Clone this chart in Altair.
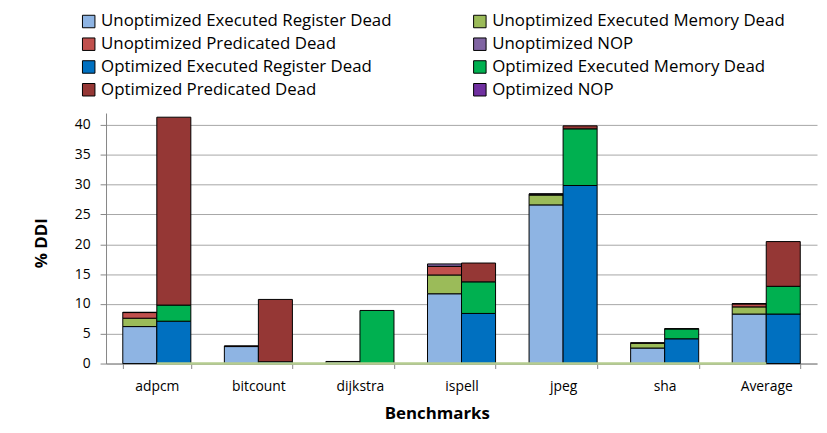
import altair as alt
import pandas as pd

benchmarks = ["adpcm", "bitcount", "dijkstra", "ispell", "jpeg", "sha", "Average"]
versions = ["Unoptimized", "Optimized"]
categories = ["Executed Register Dead", "Executed Memory Dead", "Predicated Dead", "NOP"]

unopt_reg = [6.2, 2.85, 0.3, 11.7, 26.6, 2.6, 8.3]
unopt_mem = [1.4, 0.05, 0.05, 3.15, 1.65, 0.8, 1.2]
unopt_pred = [0.95, 0.05, 0.0, 1.45, 0.15, 0.1, 0.5]
unopt_nop = [0.05, 0.0, 0.0, 0.4, 0.05, 0.0, 0.05]
opt_reg = [7.1, 0.3, 0.0, 8.4, 29.85, 4.15, 8.3]
opt_mem = [2.7, 0.0, 8.9, 5.3, 9.5, 1.65, 4.65]
opt_pred = [31.5, 10.45, 0.0, 3.15, 0.5, 0.05, 7.5]
opt_nop = [0.0, 0.0, 0.0, 0.0, 0.0, 0.0, 0.0]
baseline_values = [0, 0, 0, 0, 0, 0, 0]
y_ticks = [0, 5, 10, 15, 20, 25, 30, 35, 40]

series_colors = ["#8EB4E3", "#9BBB59", "#C0504D", "#8064A2",
                 "#0070C0", "#00B050", "#953735", "#7030A0"]

values = {
    "Unoptimized": [unopt_reg, unopt_mem, unopt_pred, unopt_nop],
    "Optimized": [opt_reg, opt_mem, opt_pred, opt_nop],
}

series_names = [f"{v} {c}" for v in versions for c in categories]

rows = []
for v in versions:
    for ci, c in enumerate(categories):
        for bi, b in enumerate(benchmarks):
            rows.append({"benchmark": b, "version": v, "series": f"{v} {c}",
                         "layer": ci, "value": values[v][ci][bi]})
df = pd.DataFrame(rows)

FONT = "Open Sans"

x_axis = alt.Axis(labelAngle=0, tickBand="extent", tickSize=5,
                  tickColor="#868686", domainColor="#868686",
                  labelFont=FONT, labelFontSize=14, labelColor="black",
                  labelPadding=11, titleFont=FONT, titleFontSize=17,
                  titleFontWeight="bold", titleColor="black",
                  titleX=334, titleY=42, titleBaseline="top")
y_axis = alt.Axis(values=y_ticks, grid=True,
                  gridColor="#a6a6a6", domainColor="#868686",
                  tickColor="#868686", tickSize=6,
                  labelFont=FONT, labelFontSize=14, labelColor="black",
                  labelPadding=10, labelOverlap=False,
                  titleFont=FONT, titleFontSize=17,
                  titleFontWeight="bold", titleColor="black",
                  titleX=-65, titleY=131, titleBaseline="middle")
x_scale = alt.Scale(paddingInner=0.33, paddingOuter=0.165)
y_scale = alt.Scale(domain=[0, 42], nice=False)

bars = alt.Chart(df).transform_filter("datum.value > 0").mark_bar(
    stroke="black", strokeWidth=1
).encode(
    x=alt.X("benchmark:N", sort=benchmarks, scale=x_scale,
            title="Benchmarks", axis=x_axis),
    xOffset=alt.XOffset("version:N", sort=versions),
    y=alt.Y("value:Q", stack="zero", scale=y_scale, title="% DDI", axis=y_axis),
    color=alt.Color("series:N",
                    scale=alt.Scale(domain=series_names, range=series_colors),
                    legend=alt.Legend(title=None, orient="none", legendX=-26,
                                      legendY=-101, columns=2,
                                      direction="horizontal",
                                      symbolType="square", symbolSize=159,
                                      symbolStrokeColor="black",
                                      symbolStrokeWidth=1,
                                      labelFont=FONT, labelFontSize=17,
                                      labelColor="black", labelOffset=4,
                                      rowPadding=5, columnPadding=78,
                                      gridAlign="all", labelLimit=400)),
    order=alt.Order("layer:Q"),
)

base_df = pd.DataFrame({"benchmark": benchmarks, "value": baseline_values})
line = alt.Chart(base_df).mark_line(color="#b5cc8f", strokeWidth=2.5).encode(
    x=alt.X("benchmark:N", sort=benchmarks, scale=x_scale,
            title="Benchmarks", axis=x_axis),
    y=alt.Y("value:Q", scale=y_scale, title="% DDI", axis=y_axis),
)

chart = alt.layer(bars, line).properties(
    width=718, height=253,
    autosize=alt.AutoSizeParams(type="none"),
    padding={"left": 99, "top": 104, "right": 2, "bottom": 60},
).configure(font=FONT).configure_view(stroke=None)

chart.save("out.html", embed_options={"renderer": "svg", "actions": False})
